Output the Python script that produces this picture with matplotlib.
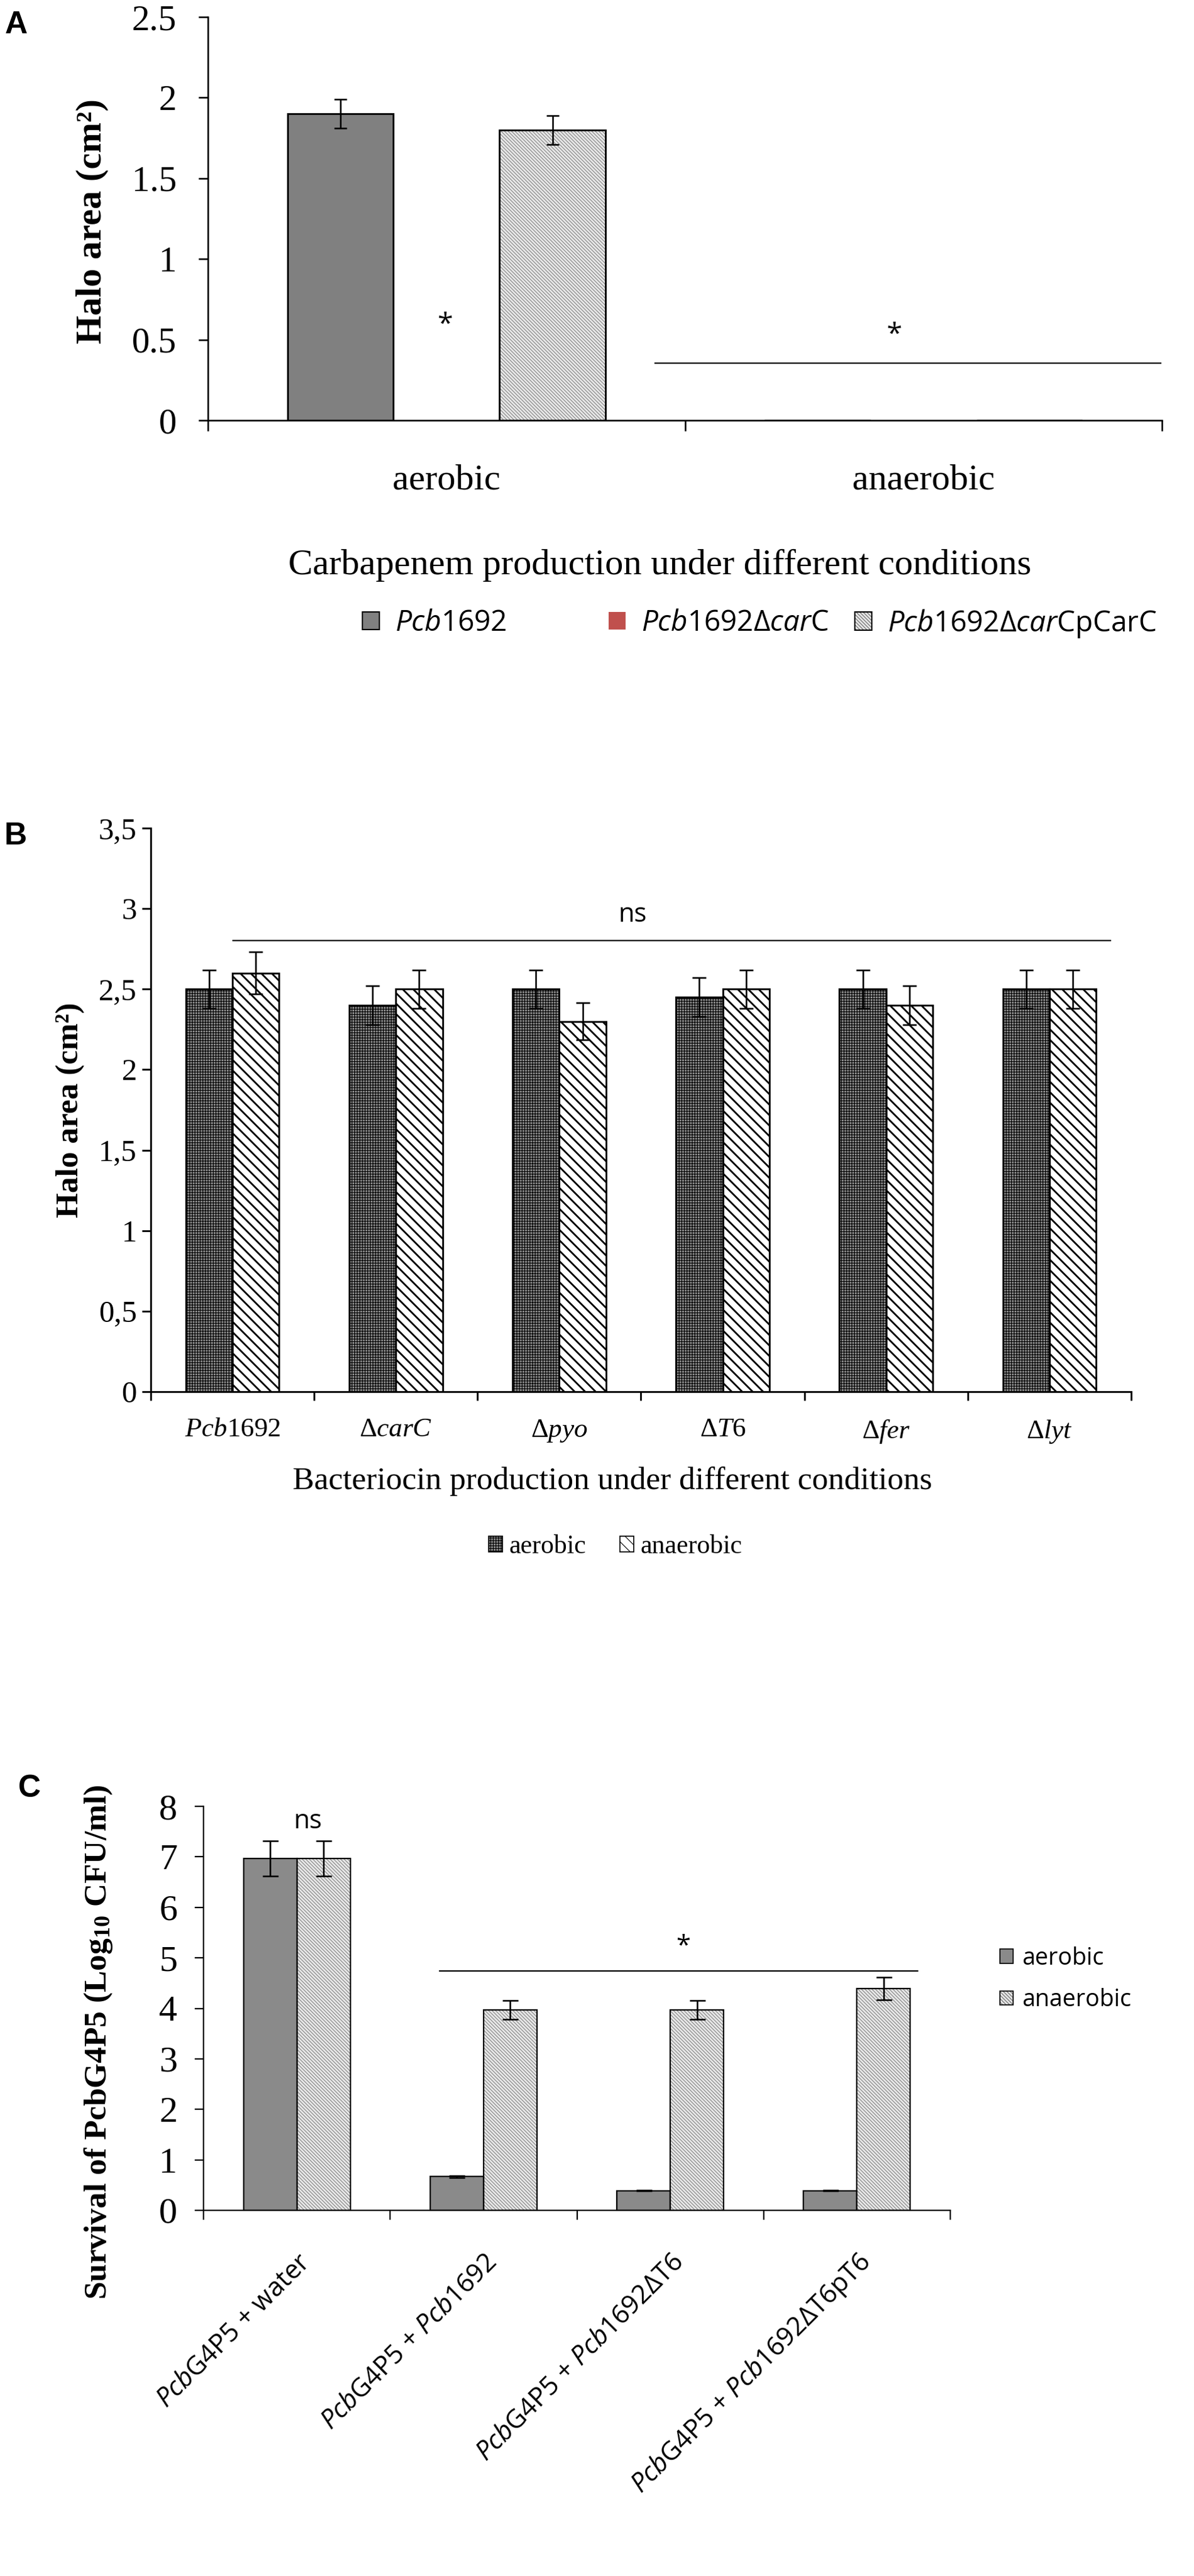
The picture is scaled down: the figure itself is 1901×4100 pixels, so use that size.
import matplotlib
matplotlib.use('Agg')
import matplotlib.pyplot as plt
import numpy as np
from matplotlib.patches import Patch
from matplotlib.legend_handler import HandlerTuple
from matplotlib.transforms import ScaledTranslation

plt.rcParams['font.family'] = ['Liberation Serif', 'DejaVu Serif']
plt.rcParams['mathtext.fontset'] = 'custom'
plt.rcParams['mathtext.rm'] = 'Liberation Serif'
plt.rcParams['mathtext.it'] = 'Liberation Serif:italic'
plt.rcParams['mathtext.bf'] = 'Liberation Serif:bold'
plt.rcParams['mathtext.cal'] = 'Open Sans:italic'
plt.rcParams['mathtext.sf'] = 'Open Sans'
plt.rcParams['hatch.linewidth'] = 0.8

SANS = ['Open Sans', 'DejaVu Sans']

# ---- data: panel A (carbapenem) ----
a_conditions = ['aerobic', 'anaerobic']
a_strains = ['$\\mathcal{Pcb}$1692',
             '$\\mathcal{Pcb}$1692Δ$\\mathcal{car}$C',
             '$\\mathcal{Pcb}$1692Δ$\\mathcal{car}$CpCarC']
a_halo = [[1.9, 0.0], [0.0, 0.0], [1.8, 0.0]]
a_err = [[0.09, 0.0], [0.0, 0.0], [0.09, 0.0]]
a_yticks = [0, 0.5, 1, 1.5, 2, 2.5]

# ---- data: panel B (bacteriocin) ----
b_strains = ['$\\mathit{Pcb}$1692', 'Δ$\\mathit{carC}$', 'Δ$\\mathit{pyo}$',
             'Δ$\\mathit{T6}$', 'Δ$\\mathit{fer}$', 'Δ$\\mathit{lyt}$']
b_conditions = ['aerobic', 'anaerobic']
b_aerobic = [2.5, 2.4, 2.5, 2.45, 2.5, 2.5]
b_anaerobic = [2.6, 2.5, 2.3, 2.5, 2.4, 2.5]
b_aerobic_err = [0.12, 0.12, 0.12, 0.12, 0.12, 0.12]
b_anaerobic_err = [0.13, 0.12, 0.115, 0.12, 0.12, 0.12]
b_yticks = [0, 0.5, 1, 1.5, 2, 2.5, 3, 3.5]

# ---- data: panel C (survival) ----
c_pairs = ['$\\mathcal{Pcb}$G4P5 + water',
           '$\\mathcal{Pcb}$G4P5 + $\\mathcal{Pcb}$1692',
           '$\\mathcal{Pcb}$G4P5 + $\\mathcal{Pcb}$1692ΔT6',
           '$\\mathcal{Pcb}$G4P5 + $\\mathcal{Pcb}$1692ΔT6pT6']
c_conditions = ['aerobic', 'anaerobic']
c_aerobic = [6.97, 0.67, 0.39, 0.39]
c_anaerobic = [6.97, 3.97, 3.97, 4.39]
c_aerobic_err = [0.35, 0.02, 0.01, 0.01]
c_anaerobic_err = [0.35, 0.19, 0.19, 0.22]
c_yticks = list(range(0, 9))

W, H = 1901, 4100
fig = plt.figure(figsize=(W / 100, H / 100), dpi=100)


def px_axes(left, top, right, bottom):
    return fig.add_axes([left / W, 1 - bottom / H, (right - left) / W, (bottom - top) / H])


def fx(x):
    return x / W


def fy(y):
    return 1 - y / H


def draw_bars(ax, x, vals, errs, width, face, hatch=None, hatch_col='black',
              hatch_lw=None, edge_lw=2.0, capsize=8, err_lw=1.8):
    vals = np.asarray(vals, float)
    errs = np.asarray(errs, float)
    x = np.asarray(x, float)
    fill = ax.bar(x, vals, width, color=face, hatch=hatch, edgecolor=hatch_col,
                  linewidth=0, zorder=2)
    if hatch_lw is not None:
        for p in fill:
            if hasattr(p, 'set_hatch_linewidth'):
                p.set_hatch_linewidth(hatch_lw)
    if edge_lw > 0:
        ax.bar(x, vals, width, fill=False, edgecolor='black', linewidth=edge_lw, zorder=3)
    m = vals > 0
    if m.any():
        ax.errorbar(x[m], vals[m], yerr=errs[m], fmt='none', ecolor='black',
                    elinewidth=err_lw, capsize=capsize, capthick=err_lw, zorder=4)


def handle(face, hatch=None, hatch_col='black', hatch_lw=None, edge_lw=1.5):
    p = Patch(facecolor=face, hatch=hatch, edgecolor=hatch_col, linewidth=0)
    if hatch_lw is not None and hasattr(p, 'set_hatch_linewidth'):
        p.set_hatch_linewidth(hatch_lw)
    if edge_lw == 0:
        return (p,)
    return (p, Patch(fill=False, edgecolor='black', linewidth=edge_lw))


def excel_axes(ax, n, lw, ticklen_x, ticklen_y):
    for s in ['top', 'right']:
        ax.spines[s].set_visible(False)
    for s in ['left', 'bottom']:
        ax.spines[s].set_linewidth(lw)
    ax.set_xlim(0, n)
    ax.set_xticks(np.arange(n + 1))
    ax.set_xticklabels([])
    ax.tick_params(axis='x', which='major', direction='out', length=ticklen_x, width=lw)
    ax.tick_params(axis='y', which='major', direction='out', length=ticklen_y, width=lw)
    ax.tick_params(axis='x', which='minor', length=0)


# ================= Panel A =================
axA = px_axes(331, 27, 1850, 669)
excel_axes(axA, 2, 1.8, 12, 11)
a_styles = [dict(face='#808080'),
            dict(face='#c0504d', edge_lw=0),
            dict(face='#e6e6e6', hatch='\\\\\\\\\\\\', hatch_col='#6a6a6a', hatch_lw=0.6)]
bw = 1 / 4.5
xc = np.arange(len(a_conditions)) + 0.5
for i, st in enumerate(a_styles):
    draw_bars(axA, xc + (i - 1) * bw, a_halo[i], a_err[i], bw, capsize=7.5, **st)
axA.set_ylim(0, 2.5)
axA.set_yticks(a_yticks)
axA.set_yticklabels(['%g' % v for v in a_yticks], fontsize=41)
axA.tick_params(axis='y', pad=25)
axA.set_xticks(xc, minor=True)
axA.set_xticklabels(a_conditions, minor=True, fontsize=42)
axA.tick_params(axis='x', which='minor', pad=50)
axA.plot([0.9375, 1.997], [0.355, 0.355], color='black', lw=1.6, zorder=5)
axA.text(0.497, 0.59, '*', ha='center', va='center', fontsize=32, family=SANS)
axA.text(1.438, 0.53, '*', ha='center', va='center', fontsize=32, family=SANS)

fig.text(fx(147), fy(352), 'Halo area (cm²)', rotation=90, ha='center', va='center',
         fontsize=42, fontweight='bold')
fig.text(fx(1050), fy(900), 'Carbapenem production under different conditions',
         ha='center', va='center', fontsize=42)
for i, (lab, st) in enumerate(zip(a_strains, a_styles)):
    h = handle(st['face'], st.get('hatch'), st.get('hatch_col', 'black'),
               st.get('hatch_lw'), st.get('edge_lw', 1.5))
    fig.legend([h], [lab], loc='center left', bbox_to_anchor=(fx(577 + 392 * i), fy(992)),
               frameon=False, borderaxespad=0, borderpad=0, handlelength=0.58,
               handleheight=0.58, handletextpad=0.55,
               handler_map={tuple: HandlerTuple(ndivide=1, pad=0)},
               prop={'family': SANS, 'size': 33})
fig.text(fx(26), fy(40), 'A', ha='center', va='center', fontsize=36, fontweight='bold',
         family=['Liberation Sans', 'DejaVu Sans'])

# ================= Panel B =================
axB = px_axes(240, 1318, 1801, 2215)
excel_axes(axB, len(b_strains), 2.0, 10, 10)
bw = 1 / 3.5
xc = np.arange(len(b_strains)) + 0.5
b_styles = [dict(face='#8c8c8c', hatch='++++', hatch_col='black', hatch_lw=0.8),
            dict(face='white', hatch='\\\\', hatch_col='black', hatch_lw=2.0)]
draw_bars(axB, xc - bw / 2, b_aerobic, b_aerobic_err, bw, capsize=8, **b_styles[0])
draw_bars(axB, xc + bw / 2, b_anaerobic, b_anaerobic_err, bw, capsize=8, **b_styles[1])
axB.set_ylim(0, 3.5)
axB.set_yticks(b_yticks)
axB.set_yticklabels([('%g' % v).replace('.', ',') for v in b_yticks], fontsize=35)
axB.tick_params(axis='y', pad=6)
axB.set_xticks(xc, minor=True)
axB.set_xticklabels(b_strains, minor=True, fontsize=31)
axB.tick_params(axis='x', which='minor', pad=30)
axB.plot([0.503, 5.873], [2.8, 2.8], color='black', lw=1.6, zorder=5)
axB.text(2.95, 2.96, 'ns', ha='center', va='center', fontsize=30, family=SANS)

fig.text(fx(112), fy(1767), 'Halo area (cm²)', rotation=90, ha='center', va='center',
         fontsize=37, fontweight='bold')
fig.text(fx(975), fy(2358), 'Bacteriocin production under different conditions',
         ha='center', va='center', fontsize=37)
hb = [handle(**st, edge_lw=1.2) for st in b_styles]
fig.legend(hb, b_conditions, loc='center', bbox_to_anchor=(fx(980), fy(2462)), ncol=2,
           frameon=False, borderaxespad=0, borderpad=0, handlelength=0.53,
           handleheight=0.53, handletextpad=0.25, columnspacing=1.3,
           handler_map={tuple: HandlerTuple(ndivide=1, pad=0)},
           prop={'family': ['Liberation Serif'], 'size': 30})
fig.text(fx(25), fy(1331), 'B', ha='center', va='center', fontsize=36, fontweight='bold',
         family=['Liberation Sans', 'DejaVu Sans'])

# ================= Panel C =================
axC = px_axes(324, 2875, 1513, 3518)
excel_axes(axC, len(c_pairs), 1.6, 11, 10)
bw = 1 / 3.5
xc = np.arange(len(c_pairs)) + 0.5
c_styles = [dict(face='#8a8a8a'),
            dict(face='#e6e6e6', hatch='\\\\\\\\\\\\', hatch_col='#6a6a6a', hatch_lw=0.6)]
draw_bars(axC, xc - bw / 2, c_aerobic, c_aerobic_err, bw, edge_lw=1.6, capsize=9, **c_styles[0])
draw_bars(axC, xc + bw / 2, c_anaerobic, c_anaerobic_err, bw, edge_lw=1.6, capsize=9, **c_styles[1])
axC.set_ylim(0, 8)
axC.set_yticks(c_yticks)
axC.set_yticklabels([str(v) for v in c_yticks], fontsize=42)
axC.tick_params(axis='y', pad=20)
axC.set_xticks(xc, minor=True)
axC.set_xticklabels(c_pairs, minor=True, fontsize=30, family=SANS, rotation=45,
                    ha='right', va='center', rotation_mode='anchor')
axC.tick_params(axis='x', which='minor', pad=55)
for lab in axC.get_xticklabels(minor=True):
    lab.set_transform(lab.get_transform() + ScaledTranslation(0.15, 0, fig.dpi_scale_trans))
axC.plot([1.265, 3.825], [4.74, 4.74], color='black', lw=1.6, zorder=5)
axC.text(2.57, 5.22, '*', ha='center', va='center', fontsize=30, family=SANS)
axC.text(0.56, 7.7, 'ns', ha='center', va='center', fontsize=30, family=SANS)

fig.text(fx(157), fy(3250), 'Survival of PcbG4P5 (Log$_{\\mathbf{10}}$ CFU/ml)', rotation=90,
         ha='center', va='center', fontsize=37, fontweight='bold')
hc = [handle(**st, edge_lw=1.2) for st in c_styles]
fig.legend(hc, c_conditions, loc='center left', bbox_to_anchor=(fx(1592), fy(3150)),
           frameon=False, borderaxespad=0, borderpad=0, handlelength=0.55,
           handleheight=0.55, handletextpad=0.4, labelspacing=0.75,
           handler_map={tuple: HandlerTuple(ndivide=1, pad=0)},
           prop={'family': SANS, 'size': 27})
fig.text(fx(47), fy(2847), 'C', ha='center', va='center', fontsize=36, fontweight='bold',
         family=['Liberation Sans', 'DejaVu Sans'])

fig.savefig('out.png', dpi=100, facecolor='white')
